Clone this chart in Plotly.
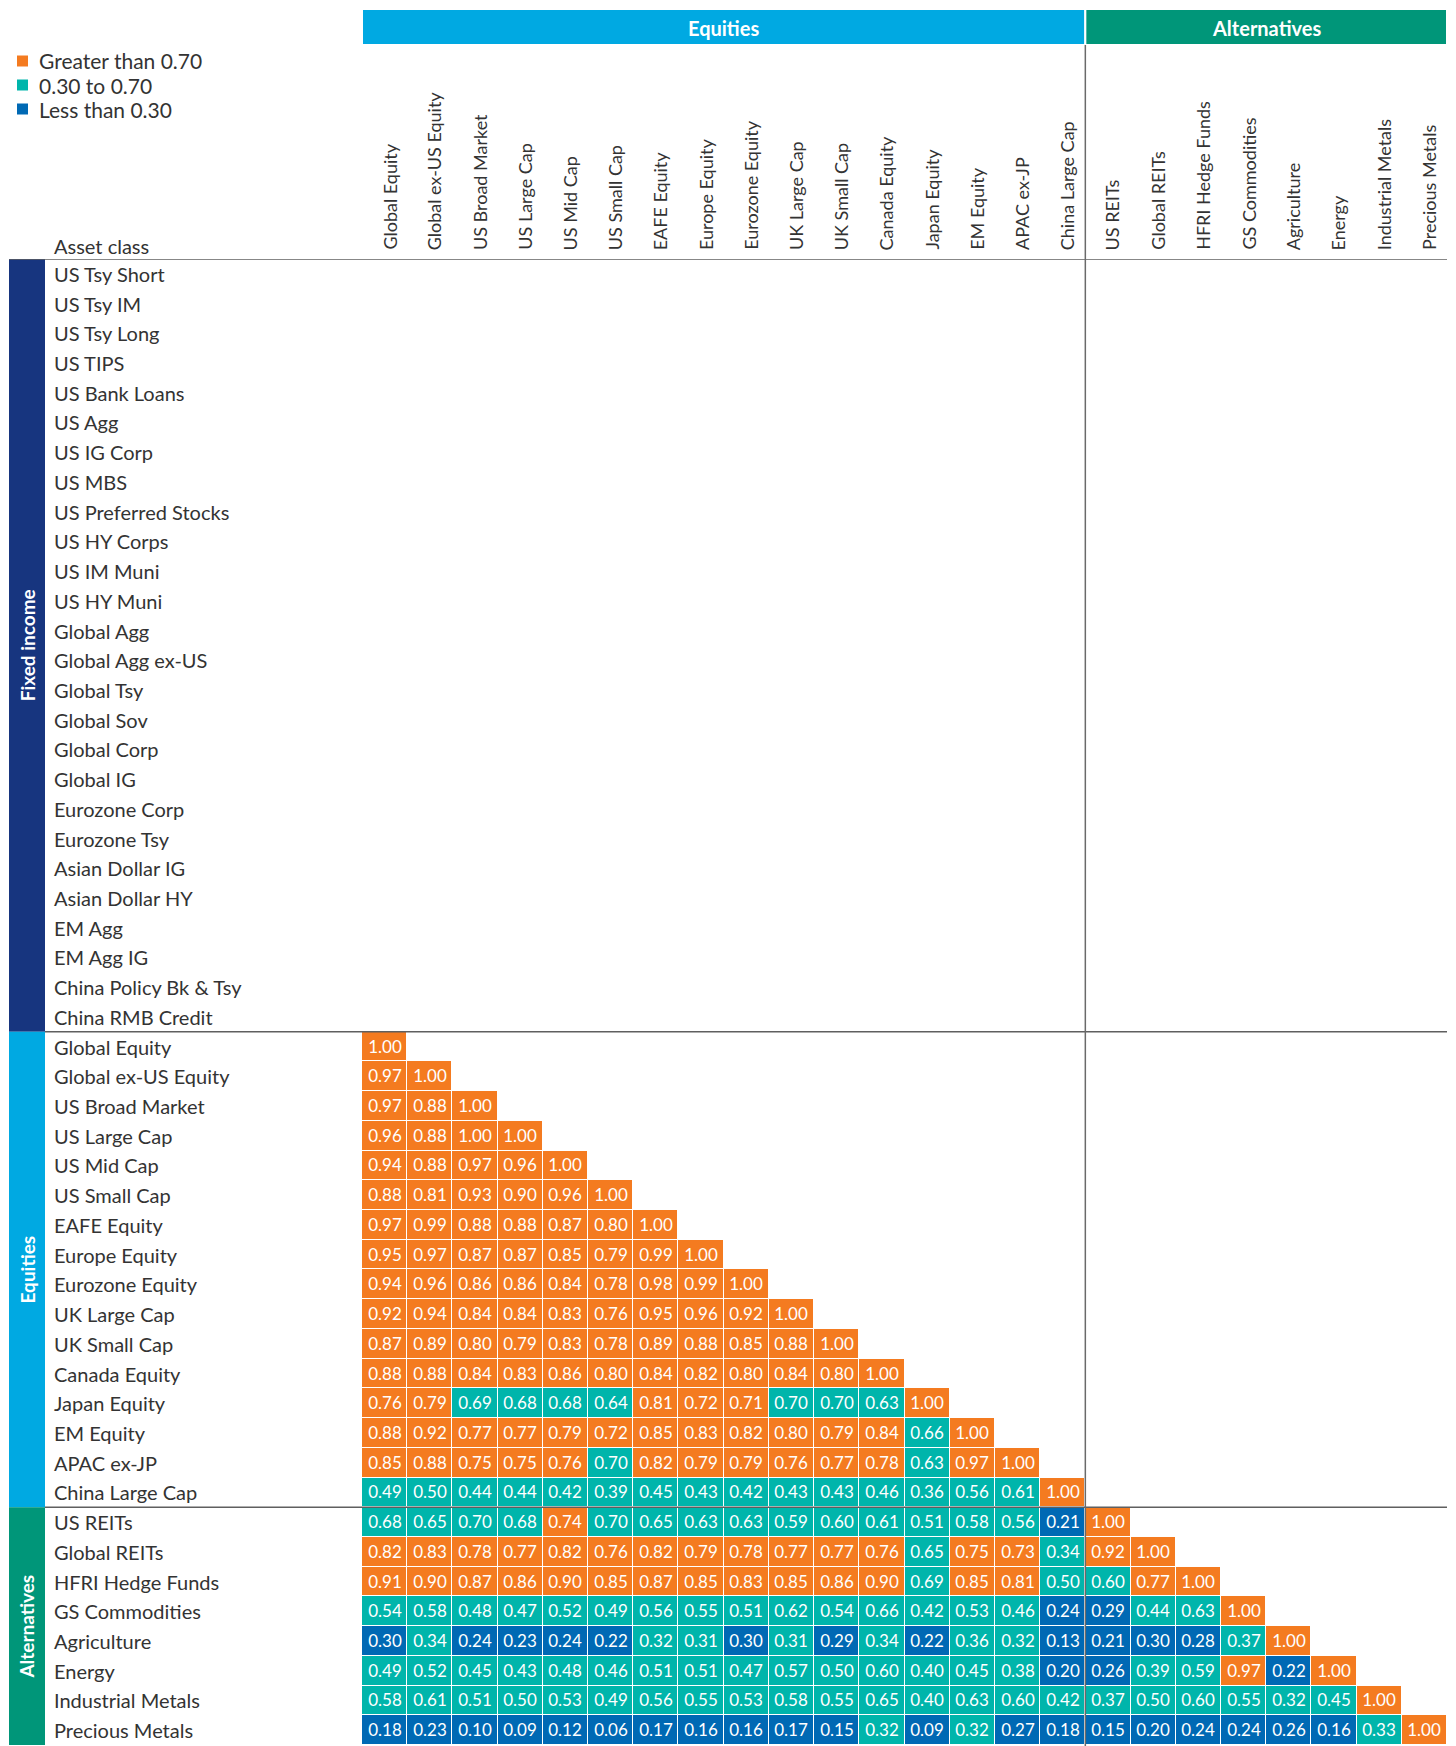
import plotly.graph_objects as go

# ---------------- data ----------------
fixed_income = ["US Tsy Short", "US Tsy IM", "US Tsy Long", "US TIPS", "US Bank Loans", "US Agg",
                "US IG Corp", "US MBS", "US Preferred Stocks", "US HY Corps", "US IM Muni", "US HY Muni",
                "Global Agg", "Global Agg ex-US", "Global Tsy", "Global Sov", "Global Corp", "Global IG",
                "Eurozone Corp", "Eurozone Tsy", "Asian Dollar IG", "Asian Dollar HY", "EM Agg", "EM Agg IG",
                "China Policy Bk & Tsy", "China RMB Credit"]
equities = ["Global Equity", "Global ex-US Equity", "US Broad Market", "US Large Cap", "US Mid Cap",
            "US Small Cap", "EAFE Equity", "Europe Equity", "Eurozone Equity", "UK Large Cap", "UK Small Cap",
            "Canada Equity", "Japan Equity", "EM Equity", "APAC ex-JP", "China Large Cap"]
alternatives = ["US REITs", "Global REITs", "HFRI Hedge Funds", "GS Commodities", "Agriculture", "Energy",
                "Industrial Metals", "Precious Metals"]

equity_rows = [
    [1.00],
    [0.97, 1.00],
    [0.97, 0.88, 1.00],
    [0.96, 0.88, 1.00, 1.00],
    [0.94, 0.88, 0.97, 0.96, 1.00],
    [0.88, 0.81, 0.93, 0.90, 0.96, 1.00],
    [0.97, 0.99, 0.88, 0.88, 0.87, 0.80, 1.00],
    [0.95, 0.97, 0.87, 0.87, 0.85, 0.79, 0.99, 1.00],
    [0.94, 0.96, 0.86, 0.86, 0.84, 0.78, 0.98, 0.99, 1.00],
    [0.92, 0.94, 0.84, 0.84, 0.83, 0.76, 0.95, 0.96, 0.92, 1.00],
    [0.87, 0.89, 0.80, 0.79, 0.83, 0.78, 0.89, 0.88, 0.85, 0.88, 1.00],
    [0.88, 0.88, 0.84, 0.83, 0.86, 0.80, 0.84, 0.82, 0.80, 0.84, 0.80, 1.00],
    [0.76, 0.79, 0.69, 0.68, 0.68, 0.64, 0.81, 0.72, 0.71, 0.70, 0.70, 0.63, 1.00],
    [0.88, 0.92, 0.77, 0.77, 0.79, 0.72, 0.85, 0.83, 0.82, 0.80, 0.79, 0.84, 0.66, 1.00],
    [0.85, 0.88, 0.75, 0.75, 0.76, 0.70, 0.82, 0.79, 0.79, 0.76, 0.77, 0.78, 0.63, 0.97, 1.00],
    [0.49, 0.50, 0.44, 0.44, 0.42, 0.39, 0.45, 0.43, 0.42, 0.43, 0.43, 0.46, 0.36, 0.56, 0.61, 1.00],
]
alt_rows = [
    [0.68, 0.65, 0.70, 0.68, 0.74, 0.70, 0.65, 0.63, 0.63, 0.59, 0.60, 0.61, 0.51, 0.58, 0.56, 0.21, 1.00],
    [0.82, 0.83, 0.78, 0.77, 0.82, 0.76, 0.82, 0.79, 0.78, 0.77, 0.77, 0.76, 0.65, 0.75, 0.73, 0.34, 0.92, 1.00],
    [0.91, 0.90, 0.87, 0.86, 0.90, 0.85, 0.87, 0.85, 0.83, 0.85, 0.86, 0.90, 0.69, 0.85, 0.81, 0.50, 0.60, 0.77, 1.00],
    [0.54, 0.58, 0.48, 0.47, 0.52, 0.49, 0.56, 0.55, 0.51, 0.62, 0.54, 0.66, 0.42, 0.53, 0.46, 0.24, 0.29, 0.44, 0.63, 1.00],
    [0.30, 0.34, 0.24, 0.23, 0.24, 0.22, 0.32, 0.31, 0.30, 0.31, 0.29, 0.34, 0.22, 0.36, 0.32, 0.13, 0.21, 0.30, 0.28, 0.37, 1.00],
    [0.49, 0.52, 0.45, 0.43, 0.48, 0.46, 0.51, 0.51, 0.47, 0.57, 0.50, 0.60, 0.40, 0.45, 0.38, 0.20, 0.26, 0.39, 0.59, 0.97, 0.22, 1.00],
    [0.58, 0.61, 0.51, 0.50, 0.53, 0.49, 0.56, 0.55, 0.53, 0.58, 0.55, 0.65, 0.40, 0.63, 0.60, 0.42, 0.37, 0.50, 0.60, 0.55, 0.32, 0.45, 1.00],
    [0.18, 0.23, 0.10, 0.09, 0.12, 0.06, 0.17, 0.16, 0.16, 0.17, 0.15, 0.32, 0.09, 0.32, 0.27, 0.18, 0.15, 0.20, 0.24, 0.24, 0.26, 0.16, 0.33, 1.00],
]

legend_labels = ["Greater than 0.70", "0.30 to 0.70", "Less than 0.30"]
row_groups = ["Fixed income", "Equities", "Alternatives"]
col_groups = ["Equities", "Alternatives"]

# ---------------- styles ----------------
ORANGE, TEAL, BLUE = "#F47B20", "#00B5AB", "#0069B4"
NAVY, SKY, GREEN = "#17357F", "#00A9E2", "#009679"
FONT = "Lato"
TXT = "#333333"
W, H = 1456, 1746


def px(x):
    return x / W


def py(y):
    return 1 - y / H


rows = fixed_income + equities + alternatives
cols = equities + alternatives
n_rows, n_cols = len(rows), len(cols)

z = [[None] * n_cols for _ in range(n_rows)]
text = [[""] * n_cols for _ in range(n_rows)]
all_rows = [None] * len(fixed_income) + equity_rows + alt_rows
for i, r in enumerate(all_rows):
    if r is None:
        continue
    for j, v in enumerate(r):
        code = 2 if v > 0.70 else (1 if v > 0.30 else 0)
        z[i][j] = code
        text[i][j] = f"{v:.2f}"

colorscale = [[0, BLUE], [1 / 3, BLUE], [1 / 3, TEAL], [2 / 3, TEAL], [2 / 3, ORANGE], [1, ORANGE]]

fig = go.Figure(go.Heatmap(
    z=z, x=list(range(n_cols)), y=list(range(n_rows)), text=text, texttemplate="%{text}",
    textfont=dict(family=FONT, size=17, color="white"),
    colorscale=colorscale, zmin=0, zmax=2, showscale=False, xgap=1, ygap=1, hoverinfo="skip",
))

top_px, left_px, right_px = 259, 362, 1447
row_h = 29.72
y_bottom = -0.5 + (H - top_px) / row_h

annotations = []
shapes = []

# row labels
for i, name in enumerate(rows):
    annotations.append(dict(x=px(52), xref="paper", y=i, yref="y", text=name, showarrow=False,
                            xanchor="left", yanchor="middle", font=dict(family=FONT, size=20, color=TXT)))
# column labels
for j, name in enumerate(cols):
    annotations.append(dict(x=j, xref="x", y=py(252), yref="paper", text=name, showarrow=False,
                            textangle=-90, xanchor="center", yanchor="bottom", xshift=5,
                            font=dict(family=FONT, size=18, color=TXT)))

# row group bands
sizes = [len(fixed_income), len(equities), len(alternatives)]
band_colors = [NAVY, SKY, GREEN]
start = 0
for name, n, c in zip(row_groups, sizes, band_colors):
    shapes.append(dict(type="rect", xref="paper", yref="y", x0=px(9), x1=px(45), y0=start - 0.5,
                       y1=start + n - 0.5, fillcolor=c, line=dict(width=0), layer="above"))
    yc = start + (n - 1) / 2 if start + n <= y_bottom else (start - 0.5 + y_bottom) / 2
    annotations.append(dict(x=px(27), xref="paper", y=yc, yref="y", text=f"<b>{name}</b>", textangle=-90,
                            showarrow=False, xanchor="center", yanchor="middle",
                            font=dict(family=FONT, size=19, color="white")))
    start += n

# column group bars
csizes = [len(equities), len(alternatives)]
cstart = 0
for name, n, c in zip(col_groups, csizes, [SKY, GREEN]):
    shapes.append(dict(type="rect", xref="x", yref="paper", x0=cstart - 0.5, x1=cstart + n - 0.5,
                       y0=py(45), y1=py(9), fillcolor=c, line=dict(color="white", width=2)))
    annotations.append(dict(x=cstart + (n - 1) / 2, xref="x", y=py(28), yref="paper", text=f"<b>{name}</b>",
                            showarrow=False, xanchor="center", yanchor="middle",
                            font=dict(family=FONT, size=20, color="white")))
    cstart += n

# divider lines
LINE = "#5f5f5f"
shapes.append(dict(type="line", xref="paper", yref="y", x0=px(9), x1=px(right_px), y0=-0.5, y1=-0.5,
                   line=dict(color=LINE, width=1.5), layer="above"))
for b in [len(fixed_income), len(fixed_income) + len(equities)]:
    shapes.append(dict(type="line", xref="paper", yref="y", x0=px(45), x1=px(right_px), y0=b - 0.5, y1=b - 0.5,
                       line=dict(color=LINE, width=1.5), layer="above"))
shapes.append(dict(type="line", xref="x", yref="paper", x0=len(equities) - 0.5, x1=len(equities) - 0.5,
                   y0=py(45), y1=0, line=dict(color="#6a6a6a", width=1.5), layer="above"))

# legend
for k, (lab, c) in enumerate(zip(legend_labels, [ORANGE, TEAL, BLUE])):
    yc = 61 + k * 24
    shapes.append(dict(type="rect", xref="paper", yref="paper", x0=px(17), x1=px(28), y0=py(yc + 5.5),
                       y1=py(yc - 5.5), fillcolor=c, line=dict(width=0)))
    annotations.append(dict(x=px(37), xref="paper", y=py(yc), yref="paper", text=lab, showarrow=False,
                            xanchor="left", yanchor="middle", font=dict(family=FONT, size=21, color=TXT)))

annotations.append(dict(x=px(52), xref="paper", y=py(246), yref="paper", text="Asset class", showarrow=False,
                        xanchor="left", yanchor="middle", font=dict(family=FONT, size=20, color=TXT)))

fig.update_layout(
    width=W, height=H, margin=dict(l=0, r=0, t=0, b=0),
    paper_bgcolor="white", plot_bgcolor="white",
    xaxis=dict(domain=[px(left_px), px(right_px)], range=[-0.5, n_cols - 0.5], visible=False, fixedrange=True),
    yaxis=dict(domain=[0, py(top_px)], range=[y_bottom, -0.5], visible=False, fixedrange=True),
    shapes=shapes, annotations=annotations, showlegend=False,
)

fig.write_html("out.html", config={"displayModeBar": False},
               post_script="document.body.style.margin='0';document.body.style.overflow='hidden';")
